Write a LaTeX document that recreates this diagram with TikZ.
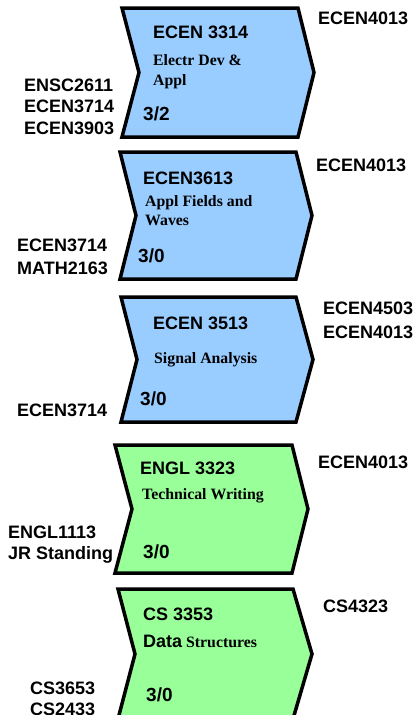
\documentclass[tikz,border=0pt]{standalone}
\usepackage{fontspec}
\setmainfont{Liberation Serif}
\newfontfamily\arial{Liberation Sans}
\definecolor{chevblue}{HTML}{99CCFF}
\definecolor{chevgreen}{HTML}{99FF99}
\tikzset{
  code/.style={font=\arial\bfseries\fontsize{18}{20}\selectfont, inner sep=0pt, anchor=base west},
  credit/.style={font=\arial\bfseries\fontsize{19}{22}\selectfont, inner sep=0pt, anchor=base west},
  title/.style={font=\bfseries\fontsize{15.8}{18}\selectfont, inner sep=0pt, anchor=base west},
  chev/.style={draw=black, line width=3.5pt, line join=miter, fill=#1},
}
% chevron: left x, top y, bottom y, right x, tip x, notch x, fill
\newcommand\coursechev[7]{%
  \path[chev=#7] (#1,#2) -- (#4,#2) -- (#5,{(#2+#3)/2}) -- (#4,#3) -- (#1,#3)
    -- (#6,{(#2+#3)/2}) -- cycle;}
\begin{document}
\begin{tikzpicture}[x=1pt,y=-1pt]
\useasboundingbox (0,0) rectangle (418,715);
\clip (0,0) rectangle (418,715);

% ECEN 3314
\coursechev{122}{8}{137}{298}{314}{139}{chevblue}
\node[code]   (c1)  at (153,38)  {ECEN 3314};
\node[title]  (t1a) at (153,65)  {Electr Dev \&};
\node[title]  (t1b) at (153,85)  {Appl};
\node[credit] (k1)  at (143,120) {3/2};
\node[code]   (n1)  at (318,24)  {ECEN4013};
\node[code]   (p1a) at (24,91)   {ENSC2611};
\node[code]   (p1b) at (24,112)  {ECEN3714};
\node[code]   (p1c) at (24,134)  {ECEN3903};

% ECEN 3613
\coursechev{120}{152}{279}{296}{312}{136}{chevblue}
\node[code]   (c2)  at (143,184) {ECEN3613};
\node[title]  (t2a) at (145,206) {Appl Fields and};
\node[title]  (t2b) at (145,225) {Waves};
\node[credit] (k2)  at (138,262) {3/0};
\node[code]   (n2)  at (316,171) {ECEN4013};
\node[code]   (p2a) at (17,251)  {ECEN3714};
\node[code]   (p2b) at (17,274)  {MATH2163};

% ECEN 3513
\coursechev{121}{297}{422}{296}{313}{137}{chevblue}
\node[code]   (c3)  at (153,329) {ECEN 3513};
\node[title]  (t3)  at (154,363) {Signal Analysis};
\node[credit] (k3)  at (140,405) {3/0};
\node[code]   (n3a) at (323,314) {ECEN4503};
\node[code]   (n3b) at (323,338) {ECEN4013};
\node[code]   (p3)  at (17,416)  {ECEN3714};

% ENGL 3323
\coursechev{115}{445}{573}{292}{308}{132}{chevgreen}
\node[code]   (c4)  at (140,474) {ENGL 3323};
\node[title]  (t4)  at (142,499) {Technical Writing};
\node[credit] (k4)  at (143,558) {3/0};
\node[code]   (n4)  at (318,468) {ECEN4013};
\node[code]   (p4a) at (8,538)   {ENGL1113};
\node[code]   (p4b) at (8,559)   {JR Standing};

% CS 3353
\coursechev{118}{589}{719}{293}{312}{135}{chevgreen}
\node[code]   (c5)  at (143,620) {CS 3353};
\node[title]  (t5)  at (143,647) {{\arial\fontsize{18}{20}\selectfont Data} Structures};
\node[credit] (k5)  at (146,701) {3/0};
\node[code]   (n5)  at (323,612) {CS4323};
\node[code]   (p5a) at (30,694)  {CS3653};
\node[code]   (p5b) at (30,715)  {CS2433};
\end{tikzpicture}
\end{document}
